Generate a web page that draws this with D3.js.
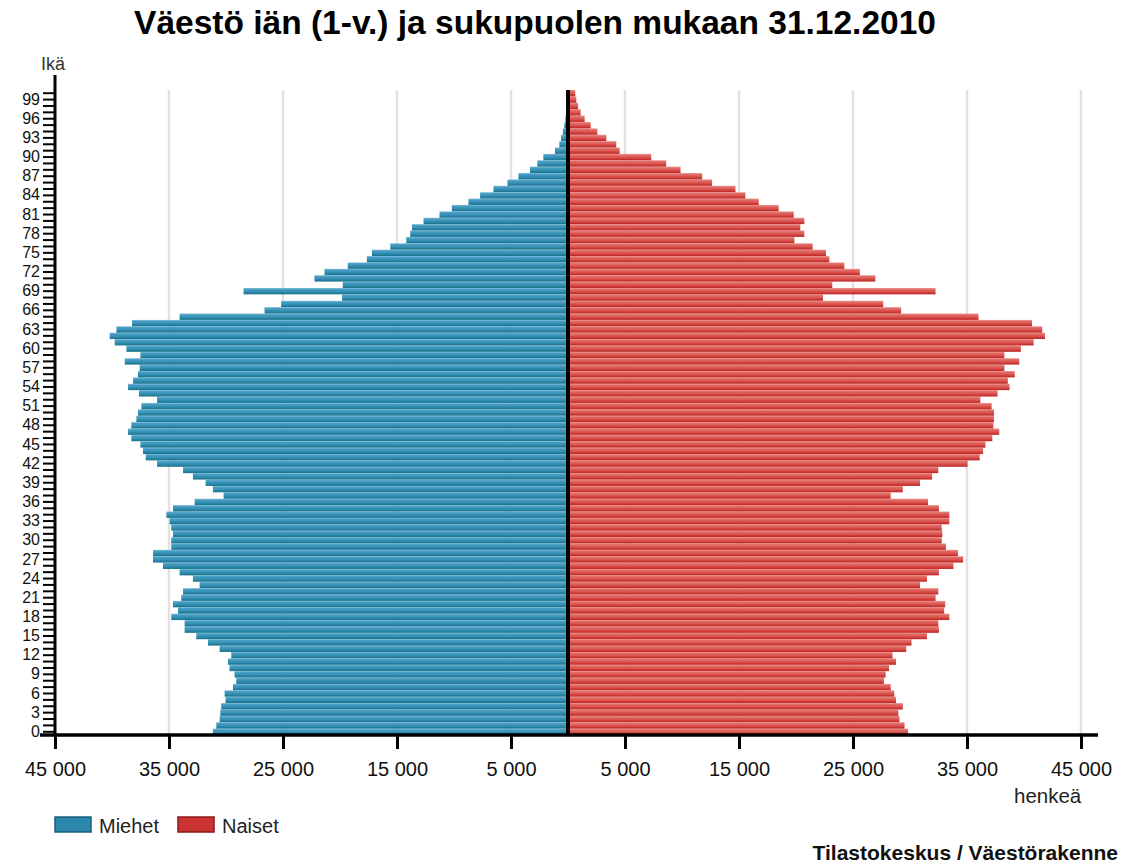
<!DOCTYPE html>
<html><head><meta charset="utf-8">
<script src="https://cdn.jsdelivr.net/npm/d3@7"></script>
<style>body{margin:0;background:#fff}svg{display:block}text{font-family:"Liberation Sans",Arial,sans-serif}</style>
</head><body><svg id="c" width="1125" height="868"></svg>
<script>
const ages = d3.range(0, 101);
const men = [31150,30850,30560,30500,30420,30040,30120,29390,29100,29250,
29690,29830,29540,30560,31580,32610,33630,33630,34800,34210,
34650,33920,33770,32310,32900,34070,35530,36400,36400,34800,
34800,34650,34800,34940,35230,34650,32750,30210,31150,31790,
32900,33770,36050,37040,37280,37510,38300,38590,38300,37860,
37720,37420,36050,37630,38590,38150,37720,37570,38880,37510,
38740,39760,40200,39610,38240,34070,26620,25160,19820,28460,
19760,22240,21360,19320,17640,17200,15590,14190,13840,13690,
12670,11270,10190,8730,7710,6540,5310,4350,3330,2690,
2160,1140,760,610,450,330,230,160,110,70,50];
const women = [29830,29520,29070,28980,29370,28770,28620,28310,27710,27860,
28160,28770,28470,29670,30130,31490,32540,32480,33450,33000,
33090,32240,32480,30880,31490,32540,33810,34660,34200,33150,
32780,32840,32780,33450,33450,32540,31580,28310,29370,30880,
31940,32480,35050,36110,36410,36620,37220,37830,37310,37370,
37370,37160,36170,37680,38730,38580,39190,38280,39580,38280,
39730,40850,41840,41600,40700,36010,29220,27650,22370,32240,
23180,26960,25600,24240,22920,22630,21460,19860,20730,20380,
20730,19800,18480,16730,15560,14690,12640,11770,9870,8610,
7300,4530,4230,3360,2570,1990,1460,1110,880,730,640];
const xTicks = [-45000,-35000,-25000,-15000,-5000,5000,15000,25000,35000,45000];
const seriesNames = ["Miehet","Naiset"];
const title = "Väestö iän (1-v.) ja sukupuolen mukaan 31.12.2010";

const svg = d3.select("#c");
svg.append("rect").attr("width",1125).attr("height",868).attr("fill","#fff");
const defs = svg.append("defs");
function grad(id, stops){
  const g = defs.append("linearGradient").attr("id",id).attr("x1",0).attr("y1",0).attr("x2",0).attr("y2",1);
  stops.forEach(s=>g.append("stop").attr("offset",s[0]).attr("stop-color",s[1]));
}
grad("gB",[["0%","#8ec4e5"],["18%","#4aa0c4"],["55%","#3590b3"],["85%","#207c99"],["100%","#17718b"]]);
grad("gR",[["0%","#f2a097"],["18%","#e2706b"],["55%","#d9534f"],["85%","#c8332f"],["100%","#ba2529"]]);

const x = d3.scaleLinear().domain([-45000,45000]).range([55,1081]);
const y = d3.scaleBand().domain(ages).range([735,90]).padding(0);
const x0 = x(0);

// grid
svg.append("g").selectAll("line").data(xTicks.filter(d=>d!==-45000)).join("line")
  .attr("x1",d=>x(d)).attr("x2",d=>x(d)).attr("y1",90).attr("y2",735)
  .attr("stroke","#e2e2e2").attr("stroke-width",2.5);

// bars
const bh = y.bandwidth();
svg.append("g").selectAll("rect").data(ages).join("rect")
  .attr("x",d=>x(-men[d])).attr("width",d=>x0 - x(-men[d]))
  .attr("y",d=>y(d)).attr("height",bh).attr("fill","url(#gB)");
svg.append("g").selectAll("rect").data(ages).join("rect")
  .attr("x",x0).attr("width",d=>x(women[d]) - x0)
  .attr("y",d=>y(d)).attr("height",bh).attr("fill","url(#gR)");

// center line
svg.append("line").attr("x1",x0).attr("x2",x0).attr("y1",90).attr("y2",735)
  .attr("stroke","#000").attr("stroke-width",4);

// x axis
const xa = svg.append("g").attr("transform","translate(0,735)")
  .call(d3.axisBottom(x).tickValues(xTicks).tickSize(14).tickPadding(13)
    .tickFormat(d=>d3.format(",")(Math.abs(d)).replace(/,/g," ")));
xa.select(".domain").remove();
xa.selectAll(".tick line").attr("stroke","#000").attr("stroke-width",3);
xa.selectAll(".tick text").attr("font-size",20).attr("fill","#111").attr("font-family","Liberation Sans, Arial, sans-serif");
svg.append("line").attr("x1",40).attr("x2",1098).attr("y1",735).attr("y2",735).attr("stroke","#000").attr("stroke-width",3.5);

// y axis
const ya = svg.append("g").attr("transform","translate(55,0)")
  .call(d3.axisLeft(y).tickValues(ages).tickSize(12).tickFormat(d=> d%3===0 && d<100 ? d : ""));
ya.select(".domain").remove();
ya.selectAll(".tick line").attr("stroke","#000").attr("stroke-width",2);
ya.selectAll(".tick text").attr("font-size",16).attr("fill","#111").attr("x",-15).attr("font-family","Liberation Sans, Arial, sans-serif");
svg.append("line").attr("x1",55).attr("x2",55).attr("y1",75).attr("y2",737).attr("stroke","#000").attr("stroke-width",3);

// labels
svg.append("text").attr("x",535).attr("y",34).attr("text-anchor","middle")
  .attr("font-size",33.5).attr("font-weight","bold").attr("fill","#000").text(title);
svg.append("text").attr("x",41).attr("y",70).attr("font-size",18).attr("fill","#333").text("Ikä");
svg.append("text").attr("x",1014).attr("y",803).attr("font-size",20.5).attr("fill","#222").text("henkeä");
svg.append("text").attr("x",1118).attr("y",860).attr("text-anchor","end").attr("font-size",21)
  .attr("font-weight","bold").attr("fill","#111").text("Tilastokeskus / Väestörakenne");

// legend
const lg = svg.append("g");
const legCols = [["#2b87ab","#1a5f78"],["#cc3333","#8a1a1a"]];
const legX = [55,178];
seriesNames.forEach((n,i)=>{
  lg.append("rect").attr("x",legX[i]).attr("y",817).attr("width",36).attr("height",15)
    .attr("fill",legCols[i][0]).attr("stroke",legCols[i][1]).attr("stroke-width",1.5);
  lg.append("text").attr("x",legX[i]+44).attr("y",833).attr("font-size",20).attr("fill","#222").text(n);
});
</script></body></html>
